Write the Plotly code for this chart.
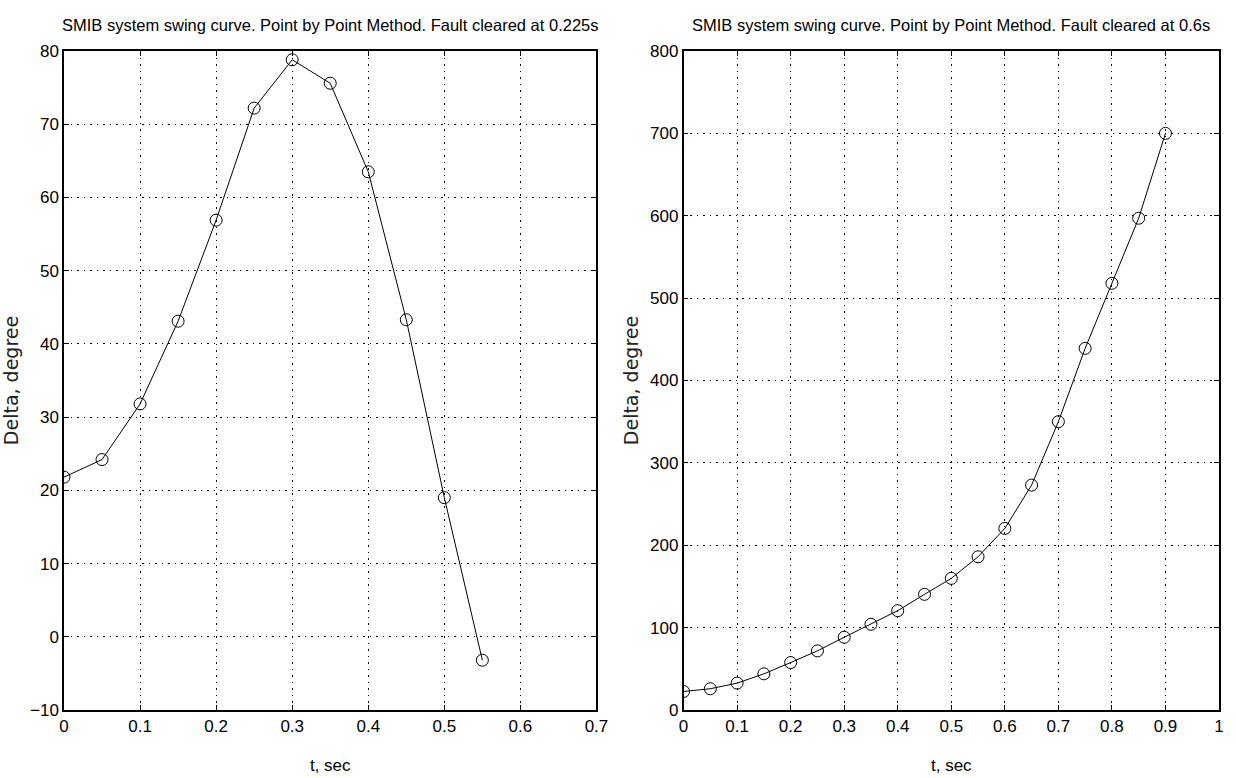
import plotly.graph_objects as go

# Left plot: fault cleared at 0.225 s
t_left = [0.0, 0.05, 0.10, 0.15, 0.20, 0.25, 0.30, 0.35, 0.40, 0.45, 0.50, 0.55]
delta_left = [21.8, 24.2, 31.8, 43.1, 56.9, 72.2, 78.8, 75.6, 63.5, 43.3, 19.0, -3.2]

# Right plot: fault cleared at 0.6 s
t_right = [0.0, 0.05, 0.10, 0.15, 0.20, 0.25, 0.30, 0.35, 0.40, 0.45, 0.50, 0.55,
           0.60, 0.65, 0.70, 0.75, 0.80, 0.85, 0.90]
delta_right = [22.5, 25.8, 32.6, 43.9, 57.6, 71.8, 88.3, 104.1, 120.6, 140.4, 159.8, 186.0,
               220.4, 273.0, 350.0, 439.0, 518.0, 597.0, 700.0]

title_left = "SMIB system swing curve. Point by Point Method. Fault cleared at 0.225s"
title_right = "SMIB system swing curve. Point by Point Method. Fault cleared at 0.6s"
xlabel = "t, sec"
ylabel = "Delta, degree"

xticks_left = [0, 0.1, 0.2, 0.3, 0.4, 0.5, 0.6, 0.7]
yticks_left = [-10, 0, 10, 20, 30, 40, 50, 60, 70, 80]
xticks_right = [0, 0.1, 0.2, 0.3, 0.4, 0.5, 0.6, 0.7, 0.8, 0.9, 1]
yticks_right = [0, 100, 200, 300, 400, 500, 600, 700, 800]

NARROW = "Liberation Sans, Arial, sans-serif"
WIDE = "DejaVu Sans, Verdana, sans-serif"

W, H = 1236, 778
ML, MR, MT, MB = 64, 5, 51, 68
pw = W - ML - MR
ph = H - MT - MB
dom_left = [0, (602 - ML) / pw]
dom_right = [(690 - ML) / pw, 1.0]

fig = go.Figure()
marker = dict(symbol="circle-open", size=12, color="black", line=dict(width=1, color="black"))
fig.add_trace(go.Scatter(x=t_left, y=delta_left, mode="lines+markers",
                         line=dict(color="black", width=1), marker=marker,
                         xaxis="x", yaxis="y", showlegend=False))
fig.add_trace(go.Scatter(x=t_right, y=delta_right, mode="lines+markers",
                         line=dict(color="black", width=1), marker=marker,
                         xaxis="x2", yaxis="y2", showlegend=False))

axis_common = dict(
    showline=True, linecolor="black", linewidth=1.5, mirror="ticks",
    ticks="inside", ticklen=5, tickcolor="black",
    showgrid=True, gridcolor="black", griddash="1.5px,5px", gridwidth=1,
    zeroline=False, tickfont=dict(family=NARROW, size=17, color="black"),
)

fig.update_layout(
    width=W, height=H,
    margin=dict(l=ML, r=MR, t=MT, b=MB),
    paper_bgcolor="white", plot_bgcolor="white",
    xaxis=dict(domain=dom_left, range=[0, 0.7], tickvals=xticks_left, anchor="y",
               title=dict(text=xlabel, font=dict(family=NARROW, size=17, color="black"), standoff=24),
               **axis_common),
    yaxis=dict(domain=[0, 1], range=[-10, 80], tickvals=yticks_left, anchor="x",
               title=dict(text=ylabel, font=dict(family=WIDE, size=19, color="#222222"), standoff=6),
               **axis_common),
    xaxis2=dict(domain=dom_right, range=[0, 1], tickvals=xticks_right, anchor="y2",
                title=dict(text=xlabel, font=dict(family=NARROW, size=17, color="black"), standoff=24),
                **axis_common),
    yaxis2=dict(domain=[0, 1], range=[0, 800], tickvals=yticks_right, anchor="x2",
                title=dict(text=ylabel, font=dict(family=WIDE, size=19, color="#222222"), standoff=6),
                **axis_common),
    annotations=[
        dict(text=title_left, xref="paper", yref="paper",
             x=(dom_left[0] + dom_left[1]) / 2, y=1 + 26 / ph, xanchor="center", yanchor="middle",
             showarrow=False, font=dict(family=NARROW, size=16.5, color="black")),
        dict(text=title_right, xref="paper", yref="paper",
             x=(dom_right[0] + dom_right[1]) / 2, y=1 + 26 / ph, xanchor="center", yanchor="middle",
             showarrow=False, font=dict(family=NARROW, size=16.5, color="black")),
    ],
)

fig.write_html("out.html")
